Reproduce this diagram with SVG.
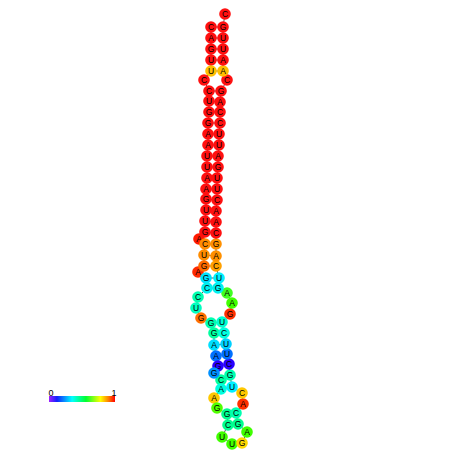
<svg xmlns="http://www.w3.org/2000/svg" width="452" height="452" viewBox="0 0 452 452">
<style>
.n text{font-family:"Liberation Sans",Arial,sans-serif;font-size:8.5px;text-anchor:middle;dominant-baseline:central;fill:#000}
.n circle{r:5.8px}
.bb{fill:none;stroke:#333;stroke-width:0.8}
.bp{stroke:#333;stroke-width:0.8}
.lbl{font-family:"Liberation Sans",Arial,sans-serif;font-size:9px;fill:#000;text-anchor:middle}
</style>
<defs>
<linearGradient id="cb" x1="0" y1="0" x2="1" y2="0">
<stop offset="0" stop-color="#a020ff"/>
<stop offset="0.12" stop-color="#1020ff"/>
<stop offset="0.35" stop-color="#00ffff"/>
<stop offset="0.56" stop-color="#00ff30"/>
<stop offset="0.78" stop-color="#ffff00"/>
<stop offset="0.9" stop-color="#ff8000"/>
<stop offset="1" stop-color="#ff0000"/>
</linearGradient>
</defs>
<g id="connectors">
<polyline class="bb" points="211,27 211,38 211,49 211,60 211,71 204,80 209,91 209,101 209,112 208,123 208,134 208,145 207,156 207,167 207,178 206,189 206,199 206,210 205,221 205,232 199,239 205,244 204,255 204,266 198,272 206,278 207,288 198,297 196,308 201,318 211,323 214,333 214,345 216,356 218,366 214,373 221,380 221,389 214,398 217,408 227,414 228,425 222,437 232,444 242,443 247,432 238,424 236,413 243,404 242,393 232,387 230,375 229,364 227,354 226,344 224,333 222,322 230,314 232,303 227,293 218,288 219,278 216,266 216,256 216,244 216,233 216,222 216,211 217,200 217,189 217,178 218,167 218,156 219,145 219,134 220,123 220,112 220,102 221,91 227,80 223,71 223,60 223,49 223,38 223,27 225,14"/>
<line class="bp" x1="211" y1="27" x2="223" y2="27"/>
<line class="bp" x1="211" y1="38" x2="223" y2="38"/>
<line class="bp" x1="211" y1="49" x2="223" y2="49"/>
<line class="bp" x1="211" y1="60" x2="223" y2="60"/>
<line class="bp" x1="211" y1="71" x2="223" y2="71"/>
<line class="bp" x1="209" y1="91" x2="221" y2="91"/>
<line class="bp" x1="209" y1="101" x2="220" y2="102"/>
<line class="bp" x1="209" y1="112" x2="220" y2="112"/>
<line class="bp" x1="208" y1="123" x2="220" y2="123"/>
<line class="bp" x1="208" y1="134" x2="219" y2="134"/>
<line class="bp" x1="208" y1="145" x2="219" y2="145"/>
<line class="bp" x1="207" y1="156" x2="218" y2="156"/>
<line class="bp" x1="207" y1="167" x2="218" y2="167"/>
<line class="bp" x1="207" y1="178" x2="217" y2="178"/>
<line class="bp" x1="206" y1="189" x2="217" y2="189"/>
<line class="bp" x1="206" y1="199" x2="217" y2="200"/>
<line class="bp" x1="206" y1="210" x2="216" y2="211"/>
<line class="bp" x1="205" y1="221" x2="216" y2="222"/>
<line class="bp" x1="205" y1="232" x2="216" y2="233"/>
<line class="bp" x1="205" y1="244" x2="216" y2="244"/>
<line class="bp" x1="204" y1="255" x2="216" y2="256"/>
<line class="bp" x1="204" y1="266" x2="216" y2="266"/>
<line class="bp" x1="206" y1="278" x2="219" y2="278"/>
<line class="bp" x1="207" y1="288" x2="218" y2="288"/>
<line class="bp" x1="211" y1="323" x2="222" y2="322"/>
<line class="bp" x1="214" y1="333" x2="224" y2="333"/>
<line class="bp" x1="214" y1="345" x2="226" y2="344"/>
<line class="bp" x1="216" y1="356" x2="227" y2="354"/>
<line class="bp" x1="218" y1="366" x2="229" y2="364"/>
<line class="bp" x1="221" y1="380" x2="230" y2="375"/>
<line class="bp" x1="221" y1="389" x2="232" y2="387"/>
<line class="bp" x1="227" y1="414" x2="236" y2="413"/>
<line class="bp" x1="228" y1="425" x2="238" y2="424"/>
</g>
<g class="n">
<g id="n1"><circle cx="211" cy="27" fill="#ff1010"/><text x="211" y="27">C</text></g>
<g id="n2"><circle cx="211" cy="38" fill="#ff1010"/><text x="211" y="38">A</text></g>
<g id="n3"><circle cx="211" cy="49" fill="#ff1010"/><text x="211" y="49">G</text></g>
<g id="n4"><circle cx="211" cy="60" fill="#ff1010"/><text x="211" y="60">U</text></g>
<g id="n5"><circle cx="211" cy="71" fill="#ffbf00"/><text x="211" y="71">U</text></g>
<g id="n6"><circle cx="204" cy="80" fill="#ff1010"/><text x="204" y="80">C</text></g>
<g id="n7"><circle cx="209" cy="91" fill="#ff1010"/><text x="209" y="91">C</text></g>
<g id="n8"><circle cx="209" cy="101" fill="#ff1010"/><text x="209" y="101">U</text></g>
<g id="n9"><circle cx="209" cy="112" fill="#ff1010"/><text x="209" y="112">G</text></g>
<g id="n10"><circle cx="208" cy="123" fill="#ff1010"/><text x="208" y="123">G</text></g>
<g id="n11"><circle cx="208" cy="134" fill="#ff1010"/><text x="208" y="134">A</text></g>
<g id="n12"><circle cx="208" cy="145" fill="#ff1010"/><text x="208" y="145">A</text></g>
<g id="n13"><circle cx="207" cy="156" fill="#ff1010"/><text x="207" y="156">U</text></g>
<g id="n14"><circle cx="207" cy="167" fill="#ff1010"/><text x="207" y="167">U</text></g>
<g id="n15"><circle cx="207" cy="178" fill="#ff1010"/><text x="207" y="178">A</text></g>
<g id="n16"><circle cx="206" cy="189" fill="#ff1010"/><text x="206" y="189">A</text></g>
<g id="n17"><circle cx="206" cy="199" fill="#ff1010"/><text x="206" y="199">G</text></g>
<g id="n18"><circle cx="206" cy="210" fill="#ff1010"/><text x="206" y="210">U</text></g>
<g id="n19"><circle cx="205" cy="221" fill="#ff1010"/><text x="205" y="221">U</text></g>
<g id="n21"><circle cx="199" cy="239" fill="#ff1a00"/><text x="199" y="239">A</text></g>
<g id="n20"><circle cx="205" cy="232" fill="#ff1010"/><text x="205" y="232">G</text></g>
<g id="n22"><circle cx="205" cy="244" fill="#ff8c00"/><text x="205" y="244">C</text></g>
<g id="n23"><circle cx="204" cy="255" fill="#ff8c00"/><text x="204" y="255">U</text></g>
<g id="n25"><circle cx="198" cy="272" fill="#ff2a00"/><text x="198" y="272">A</text></g>
<g id="n24"><circle cx="204" cy="266" fill="#ff6a00"/><text x="204" y="266">G</text></g>
<g id="n26"><circle cx="206" cy="278" fill="#00e0ff"/><text x="206" y="278">G</text></g>
<g id="n27"><circle cx="207" cy="288" fill="#00f0f0"/><text x="207" y="288">C</text></g>
<g id="n28"><circle cx="198" cy="297" fill="#00ffb0"/><text x="198" y="297">C</text></g>
<g id="n29"><circle cx="196" cy="308" fill="#00ffc0"/><text x="196" y="308">U</text></g>
<g id="n30"><circle cx="201" cy="318" fill="#ff7000"/><text x="201" y="318">G</text></g>
<g id="n31"><circle cx="211" cy="323" fill="#00ffb0"/><text x="211" y="323">G</text></g>
<g id="n32"><circle cx="214" cy="333" fill="#00ffa0"/><text x="214" y="333">G</text></g>
<g id="n33"><circle cx="214" cy="345" fill="#00e0ff"/><text x="214" y="345">A</text></g>
<g id="n34"><circle cx="216" cy="356" fill="#0070ff"/><text x="216" y="356">A</text></g>
<g id="n35"><circle cx="218" cy="366" fill="#2a00ff"/><text x="218" y="366">G</text></g>
<g id="n37"><circle cx="221" cy="380" fill="#00ffa0"/><text x="221" y="380">C</text></g>
<g id="n36"><circle cx="214" cy="373" fill="#0090ff"/><text x="214" y="373">G</text></g>
<g id="n38"><circle cx="221" cy="389" fill="#00ffe0"/><text x="221" y="389">A</text></g>
<g id="n39"><circle cx="214" cy="398" fill="#ffc800"/><text x="214" y="398">A</text></g>
<g id="n40"><circle cx="217" cy="408" fill="#50ff00"/><text x="217" y="408">G</text></g>
<g id="n41"><circle cx="227" cy="414" fill="#00ff90"/><text x="227" y="414">G</text></g>
<g id="n42"><circle cx="228" cy="425" fill="#00ff90"/><text x="228" y="425">C</text></g>
<g id="n43"><circle cx="222" cy="437" fill="#40ff00"/><text x="222" y="437">U</text></g>
<g id="n44"><circle cx="232" cy="444" fill="#40ff00"/><text x="232" y="444">U</text></g>
<g id="n45"><circle cx="242" cy="443" fill="#ffd800"/><text x="242" y="443">G</text></g>
<g id="n46"><circle cx="247" cy="432" fill="#40ff00"/><text x="247" y="432">A</text></g>
<g id="n47"><circle cx="238" cy="424" fill="#00ff90"/><text x="238" y="424">G</text></g>
<g id="n48"><circle cx="236" cy="413" fill="#00ffb0"/><text x="236" y="413">C</text></g>
<g id="n49"><circle cx="243" cy="404" fill="#ff3000"/><text x="243" y="404">A</text></g>
<g id="n50"><circle cx="242" cy="393" fill="#ffc800"/><text x="242" y="393">C</text></g>
<g id="n51"><circle cx="232" cy="387" fill="#00f0ff"/><text x="232" y="387">U</text></g>
<g id="n52"><circle cx="230" cy="375" fill="#00ffb0"/><text x="230" y="375">G</text></g>
<g id="n53"><circle cx="229" cy="364" fill="#2a00ff"/><text x="229" y="364">C</text></g>
<g id="n54"><circle cx="227" cy="354" fill="#0070ff"/><text x="227" y="354">U</text></g>
<g id="n55"><circle cx="226" cy="344" fill="#00d0ff"/><text x="226" y="344">U</text></g>
<g id="n56"><circle cx="224" cy="333" fill="#00ffe0"/><text x="224" y="333">C</text></g>
<g id="n57"><circle cx="222" cy="322" fill="#00ffd0"/><text x="222" y="322">U</text></g>
<g id="n58"><circle cx="230" cy="314" fill="#ff3000"/><text x="230" y="314">G</text></g>
<g id="n59"><circle cx="232" cy="303" fill="#40ff00"/><text x="232" y="303">A</text></g>
<g id="n60"><circle cx="227" cy="293" fill="#40ff20"/><text x="227" y="293">A</text></g>
<g id="n61"><circle cx="218" cy="288" fill="#00f0f0"/><text x="218" y="288">G</text></g>
<g id="n62"><circle cx="219" cy="278" fill="#00f0ff"/><text x="219" y="278">U</text></g>
<g id="n63"><circle cx="216" cy="266" fill="#ffa000"/><text x="216" y="266">C</text></g>
<g id="n64"><circle cx="216" cy="256" fill="#ff9000"/><text x="216" y="256">A</text></g>
<g id="n65"><circle cx="216" cy="244" fill="#ff9000"/><text x="216" y="244">G</text></g>
<g id="n66"><circle cx="216" cy="233" fill="#ff1010"/><text x="216" y="233">C</text></g>
<g id="n67"><circle cx="216" cy="222" fill="#ff1010"/><text x="216" y="222">A</text></g>
<g id="n68"><circle cx="216" cy="211" fill="#ff1010"/><text x="216" y="211">A</text></g>
<g id="n69"><circle cx="217" cy="200" fill="#ff1010"/><text x="217" y="200">C</text></g>
<g id="n70"><circle cx="217" cy="189" fill="#ff1010"/><text x="217" y="189">U</text></g>
<g id="n71"><circle cx="217" cy="178" fill="#ff1010"/><text x="217" y="178">U</text></g>
<g id="n72"><circle cx="218" cy="167" fill="#ff1010"/><text x="218" y="167">G</text></g>
<g id="n73"><circle cx="218" cy="156" fill="#ff1010"/><text x="218" y="156">A</text></g>
<g id="n74"><circle cx="219" cy="145" fill="#ff1010"/><text x="219" y="145">U</text></g>
<g id="n75"><circle cx="219" cy="134" fill="#ff1010"/><text x="219" y="134">U</text></g>
<g id="n76"><circle cx="220" cy="123" fill="#ff1010"/><text x="220" y="123">C</text></g>
<g id="n77"><circle cx="220" cy="112" fill="#ff1010"/><text x="220" y="112">C</text></g>
<g id="n78"><circle cx="220" cy="102" fill="#ff1010"/><text x="220" y="102">A</text></g>
<g id="n79"><circle cx="221" cy="91" fill="#ff1010"/><text x="221" y="91">G</text></g>
<g id="n80"><circle cx="227" cy="80" fill="#ff1010"/><text x="227" y="80">C</text></g>
<g id="n81"><circle cx="223" cy="71" fill="#ffbf00"/><text x="223" y="71">A</text></g>
<g id="n82"><circle cx="223" cy="60" fill="#ff1010"/><text x="223" y="60">A</text></g>
<g id="n83"><circle cx="223" cy="49" fill="#ff1010"/><text x="223" y="49">U</text></g>
<g id="n84"><circle cx="223" cy="38" fill="#ff1010"/><text x="223" y="38">U</text></g>
<g id="n85"><circle cx="223" cy="27" fill="#ff1010"/><text x="223" y="27">G</text></g>
<g id="n86"><circle cx="225" cy="14" fill="#ff1010"/><text x="225" y="14">C</text></g>
</g>
<g id="colorbar">
<rect x="49" y="396" width="66" height="6" fill="url(#cb)"/>
<text class="lbl" x="51" y="396">0</text>
<text class="lbl" x="114" y="396">1</text>
</g>
</svg>
